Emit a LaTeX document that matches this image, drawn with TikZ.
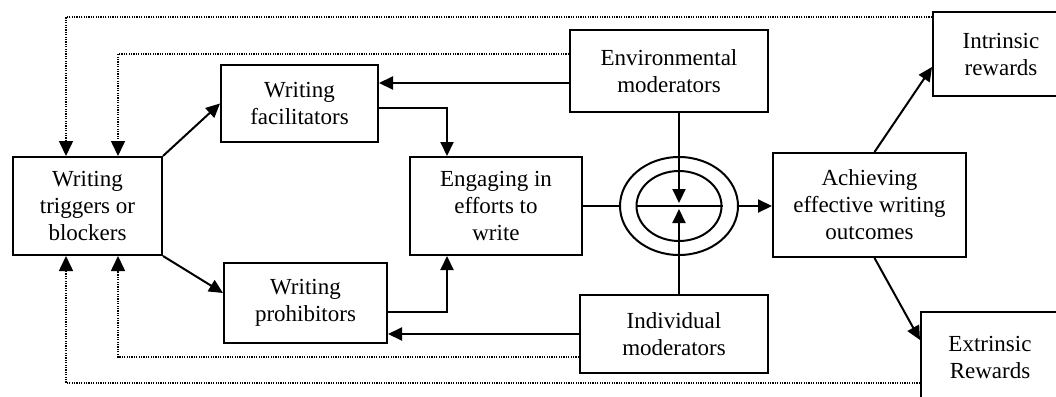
\documentclass[tikz,border=0pt]{standalone}
\usepackage{fontspec}
\setmainfont{Liberation Serif}
\usetikzlibrary{arrows.meta,shapes.geometric}
\begin{document}
\begin{tikzpicture}[x=1pt,y=-1pt,
  box/.style={draw, line width=2pt, align=center, inner sep=0pt,
    font=\fontsize{23}{27}\selectfont},
  conn/.style={line width=2pt},
  arr/.style={conn, -{Triangle[length=14pt,width=13pt]}},
  dots/.style={line width=1.6pt, dash pattern=on 1.3pt off 1.1pt},
  dotarr/.style={dots, -{Triangle[length=15pt,width=14pt]}},
  ring/.style={draw, ellipse, line width=2pt, inner sep=0pt}]
\useasboundingbox (0,0) rectangle (1056,396);
\node[box, minimum width=149pt, minimum height=98pt] (trig) at (87.5,206) {Writing\\triggers or\\blockers};
\node[box, minimum width=157pt, minimum height=77pt] (fac) at (299.5,103.5) {Writing\\facilitators};
\node[box, minimum width=163pt, minimum height=80pt] (pro) at (305.5,303) {Writing\\prohibitors};
\node[box, minimum width=172pt, minimum height=98pt] (eng) at (496,206) {Engaging in\\efforts to\\write};
\node[box, minimum width=198pt, minimum height=82pt] (env) at (669,71) {Environmental\\moderators};
\node[box, minimum width=188pt, minimum height=78pt] (ind) at (674,334) {Individual\\moderators};
\node[box, minimum width=193pt, minimum height=104pt] (ach) at (869.5,205) {Achieving\\effective writing\\outcomes};
\node[box, minimum width=136pt, minimum height=84pt] (intr) at (1001,54) {Intrinsic\\rewards};
\node[box, minimum width=138pt, minimum height=90pt] (ext) at (990,357) {Extrinsic\\Rewards};
\node[ring, minimum width=118pt, minimum height=98pt] (outer) at (679,206) {};
\node[ring, minimum width=85pt, minimum height=70pt] (inner) at (679,206) {};
% solid connectors
\draw[arr] (trig.north east) -- (fac.west);
\draw[arr] (trig.south east) -- ([yshift=10pt]pro.west);
\draw[arr] ([yshift=-4.5pt]fac.east) -| ([xshift=-49pt]eng.north);
\draw[arr] ([yshift=-9pt]pro.east) -| ([xshift=-49pt]eng.south);
\draw[arr] ([yshift=-12pt]env.west) -- ([yshift=-12pt]env.west -| fac.east);
\draw[arr] (ind.west) -- (ind.west -| pro.east);
\draw[conn] (eng.east) -- (outer.west);
\draw[arr] (outer.east) -- (outer.east -| ach.west);
\draw[conn] (inner.west) -- (inner.east);
\draw[arr, shorten >=3pt] (outer.center |- env.south) -- (outer.center);
\draw[arr, shorten >=3pt] (outer.center |- ind.north) -- (outer.center);
\draw[arr] ([xshift=5pt]ach.north) -- ([yshift=-13pt]intr.west);
\draw[arr] ([xshift=5pt]ach.south) -- ([yshift=17pt]ext.west);
% dotted feedback
\draw[dotarr] ([yshift=37pt]intr.west) -| ([xshift=-21.5pt]trig.north);
\draw[dotarr] ([yshift=17pt]env.west) -| ([xshift=30.5pt]trig.north);
\draw[dotarr] ([yshift=-23pt]ind.west) -| ([xshift=30.5pt]trig.south);
\draw[dotarr] ([yshift=-26pt]ext.west) -| ([xshift=-21.5pt]trig.south);
\end{tikzpicture}
\end{document}
